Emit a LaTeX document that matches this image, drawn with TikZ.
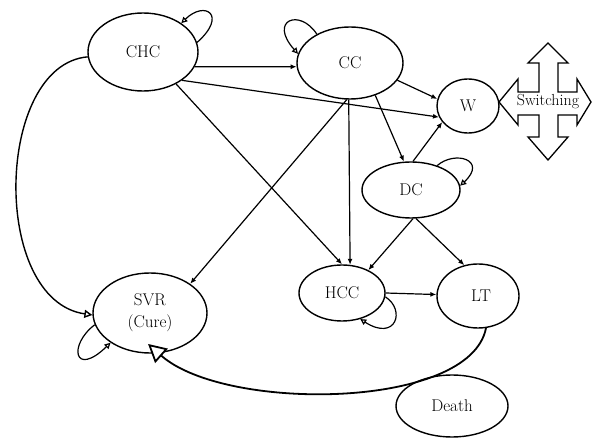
\documentclass[tikz,border=0pt]{standalone}
\usepackage{tikz}
\usetikzlibrary{arrows.meta,shapes.geometric}
\tikzset{
  statenode/.style={draw,ellipse,line width=1.4pt,inner sep=0pt,align=center,
    font=\fontsize{17}{22}\selectfont},
  flowarrow/.style={-{Latex[length=6pt,width=5pt]},line width=1.2pt},
  looparrow/.style={-{Triangle[length=6pt,width=6pt,fill=white]},line width=1.2pt},
  curearrow/.style={-{Triangle[length=8pt,width=8pt,fill=white]},line width=1.4pt},
  bigcurearrow/.style={-{Triangle[length=18pt,width=19pt,fill=white]},line width=1.8pt,
    shorten >=-14pt},
  switchshape/.style={draw,line width=1.3pt,line join=miter}
}

\begin{document}
\begin{tikzpicture}[x=1pt,y=-1pt]
  \useasboundingbox (0,0) rectangle (592,438);
  \node[statenode,minimum width=110pt,minimum height=78pt] (chc) at (143,52) {CHC};
  \node[statenode,minimum width=106pt,minimum height=72pt] (cc) at (350,63) {CC};
  \node[statenode,minimum width=62pt,minimum height=54pt] (w) at (468,106) {W};
  \node[statenode,minimum width=98pt,minimum height=56pt] (dc) at (411,190) {DC};
  \node[statenode,minimum width=86pt,minimum height=56pt] (hcc) at (342,293) {HCC};
  \node[statenode,minimum width=82pt,minimum height=64pt] (lt) at (478,296) {\hspace*{6pt}LT};
  \node[statenode,minimum width=114pt,minimum height=80pt] (svr) at (150,313) {SVR\\(Cure)};
  \node[statenode,minimum width=112pt,minimum height=62pt] (death) at (452,406) {Death};

  \draw[switchshape] (548,43) -- (568,63) -- (558,63) -- (558,92) -- (577,92) -- (577,79)
    -- (591,102) -- (577,125) -- (577,115) -- (558,115) -- (558,137) -- (568,137)
    -- (548,160) -- (528,137) -- (539,137) -- (539,115) -- (518,115) -- (518,125)
    -- (499,102) -- (518,79) -- (518,92) -- (539,92) -- (539,63) -- (528,63) -- cycle;
  \node[font=\fontsize{16}{18}\selectfont] (switching) at (548,102) {Switching};

  \draw[flowarrow] (chc.-16) -- (cc.184);
  \draw[flowarrow] (chc.-36) -- (w.201);
  \draw[flowarrow] (chc.-44) -- (hcc.90);
  \draw[flowarrow] (cc.265) -- (svr.36);
  \draw[flowarrow] (cc.268) -- (hcc.74);
  \draw[flowarrow] (cc.-20) -- (w.167);
  \draw[flowarrow] (cc.-52) -- (dc.104);
  \draw[flowarrow] (dc.86) -- (w.212);
  \draw[flowarrow] (dc.274) -- (hcc.41);
  \draw[flowarrow] (dc.280) -- (lt.114);
  \draw[flowarrow] (hcc.0) -- (lt.178);

  \draw[looparrow] (chc.10) .. controls (228,15) and (205,0) .. (chc.37);
  \draw[looparrow] (cc.139) .. controls (300,8) and (268,20) .. (cc.170);
  \draw[looparrow] (dc.43) .. controls (455,150) and (488,160) .. (dc.5);
  \draw[looparrow] (hcc.-5) .. controls (406,310) and (396,342) .. (hcc.-55);
  \draw[looparrow] (svr.192) .. controls (68,345) and (74,378) .. (svr.217);

  \draw[curearrow] (chc.185) .. controls (-5,65) and (-10,300) .. (svr.182);
  \draw[bigcurearrow] (lt.-76) .. controls (470,410) and (225,412) .. (svr.-78);
\end{tikzpicture}
\end{document}
